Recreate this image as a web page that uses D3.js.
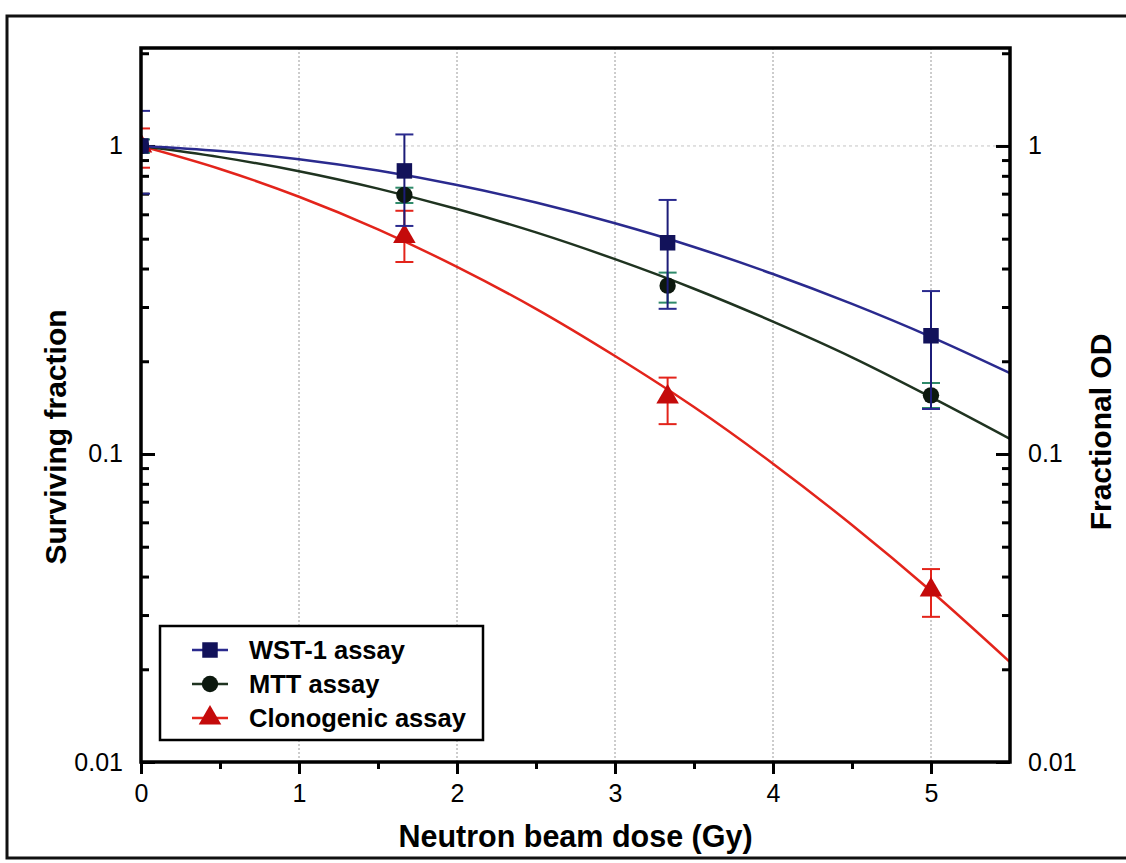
<!DOCTYPE html>
<html>
<head>
<meta charset="utf-8">
<script src="https://cdn.jsdelivr.net/npm/d3@7"></script>
<style>
  body { margin: 0; background: #fff; }
  text { font-family: "Liberation Sans", Arial, sans-serif; }
</style>
</head>
<body>
<div id="chart"></div>
<script>
// Chart data
const doses = [0, 1.667, 3.333, 5];

const wstMean = [1, 0.83, 0.485, 0.242];
const wstLow  = [0.70, 0.55, 0.296, 0.140];
const wstHigh = [1.30, 1.09, 0.668, 0.338];

const mttMean = [1, 0.693, 0.352, 0.155];
const mttLow  = [0.95, 0.653, 0.310, 0.141];
const mttHigh = [1.05, 0.732, 0.388, 0.170];

const cloMean = [1, 0.508, 0.153, 0.0362];
const cloLow  = [0.85, 0.42, 0.125, 0.0296];
const cloHigh = [1.14, 0.616, 0.177, 0.0423];

// Fitted curves, read every 0.5 Gy
const fitDose = [0, 0.5, 1, 1.5, 2, 2.5, 3, 3.5, 4, 4.5, 5, 5.5];
const wstFit = [1, 0.963, 0.905, 0.832, 0.747, 0.655, 0.561, 0.470, 0.384, 0.307, 0.240, 0.183];
const mttFit = [1, 0.920, 0.828, 0.727, 0.624, 0.524, 0.429, 0.344, 0.269, 0.206, 0.153, 0.112];
const cloFit = [1, 0.842, 0.684, 0.536, 0.405, 0.296, 0.208, 0.142, 0.093, 0.0588, 0.0359, 0.0211];

const xTicks = [0, 1, 2, 3, 4, 5];
const xMinor = [0.5, 1.5, 2.5, 3.5, 4.5];
const yTicks = [0.01, 0.1, 1];
const yMinor = [0.02, 0.03, 0.04, 0.05, 0.06, 0.07, 0.08, 0.09,
                0.2, 0.3, 0.4, 0.5, 0.6, 0.7, 0.8, 0.9, 2];

const width = 1126;
const height = 863;
const plot = {left: 141, right: 1010, top: 48, bottom: 762};

const svg = d3.select("#chart").append("svg")
    .attr("width", width)
    .attr("height", height);

// outer figure frame
svg.append("rect")
    .attr("x", 7).attr("y", 16)
    .attr("width", 1130).attr("height", 842)
    .attr("fill", "none")
    .attr("stroke", "#111")
    .attr("stroke-width", 3);

const x = d3.scaleLinear().domain([0, 5.5]).range([plot.left, plot.right]);
const y = d3.scaleLog().domain([0.01, 2.08]).range([plot.bottom, plot.top]);

// grid
svg.append("g")
    .selectAll("line")
    .data(xTicks.slice(1))
    .enter().append("line")
    .attr("x1", d => x(d)).attr("x2", d => x(d))
    .attr("y1", plot.top).attr("y2", plot.bottom)
    .attr("stroke", "#9a9a9a")
    .attr("stroke-width", 1)
    .attr("stroke-dasharray", "2,2");

svg.append("line")
    .attr("x1", plot.left).attr("x2", plot.right)
    .attr("y1", y(1)).attr("y2", y(1))
    .attr("stroke", "#c4c4c4")
    .attr("stroke-width", 1)
    .attr("stroke-dasharray", "3,3");

// axes
function styleAxis(g) {
    g.select(".domain").remove();
    g.attr("font-size", null).attr("font-family", null);
    g.selectAll(".tick line").attr("stroke", "#000").attr("stroke-width", 3);
    g.selectAll(".tick text").attr("fill", "#000").style("font-size", "25px");
}

svg.append("g")
    .attr("transform", `translate(0,${plot.bottom})`)
    .call(d3.axisBottom(x).tickValues(xTicks).tickFormat(d3.format("d")).tickSize(12).tickPadding(10))
    .call(styleAxis);
svg.append("g")
    .attr("transform", `translate(0,${plot.bottom})`)
    .call(d3.axisBottom(x).tickValues(xMinor).tickFormat("").tickSize(7))
    .call(styleAxis);

const yFmt = d => d >= 1 ? "1" : d === 0.1 ? "0.1" : "0.01";

svg.append("g")
    .attr("transform", `translate(${plot.left},0)`)
    .call(d3.axisLeft(y).tickValues(yTicks).tickFormat(yFmt).tickSize(-14).tickPadding(18))
    .call(styleAxis);
svg.append("g")
    .attr("transform", `translate(${plot.left},0)`)
    .call(d3.axisLeft(y).tickValues(yMinor).tickFormat("").tickSize(-8))
    .call(styleAxis);

svg.append("g")
    .attr("transform", `translate(${plot.right},0)`)
    .call(d3.axisRight(y).tickValues(yTicks).tickFormat(yFmt).tickSize(-14).tickPadding(18))
    .call(styleAxis);
svg.append("g")
    .attr("transform", `translate(${plot.right},0)`)
    .call(d3.axisRight(y).tickValues(yMinor).tickFormat("").tickSize(-8))
    .call(styleAxis);

// clip
svg.append("clipPath").attr("id", "clip")
    .append("rect")
    .attr("x", plot.left).attr("y", plot.top)
    .attr("width", plot.right - plot.left)
    .attr("height", plot.bottom - plot.top);

const area = svg.append("g").attr("clip-path", "url(#clip)");

const series = [
    {name: "WST-1 assay", mean: wstMean, low: wstLow, high: wstHigh, fit: wstFit,
     line: "#2a2a8e", err: "#1c1c78", cap: "#2a2a8e", fill: "#12125a", shape: d3.symbolSquare, size: 240},
    {name: "MTT assay", mean: mttMean, low: mttLow, high: mttHigh, fit: mttFit,
     line: "#1f3320", err: "#2f8a6a", cap: "#2f8a6a", fill: "#0c180e", shape: d3.symbolCircle, size: 210},
    {name: "Clonogenic assay", mean: cloMean, low: cloLow, high: cloHigh, fit: cloFit,
     line: "#e3241b", err: "#e3241b", cap: "#e3241b", fill: "#c40a0a", shape: d3.symbolTriangle, size: 220}
];

const line = d3.line()
    .x(d => x(d[0]))
    .y(d => y(d[1]))
    .curve(d3.curveMonotoneX);

// fitted curves
series.slice().reverse().forEach(s => {
    area.append("path")
        .datum(fitDose.map((d, i) => [d, s.fit[i]]))
        .attr("d", line)
        .attr("fill", "none")
        .attr("stroke", s.line)
        .attr("stroke-width", 2.5);
});

// error bars and markers
const capW = 9;
series.slice().reverse().forEach(s => {
    const g = area.append("g");
    doses.forEach((d, i) => {
        g.append("line")
            .attr("x1", x(d)).attr("x2", x(d))
            .attr("y1", y(s.low[i])).attr("y2", y(s.high[i]))
            .attr("stroke", s.err).attr("stroke-width", 2);
        [s.low[i], s.high[i]].forEach(v => {
            g.append("line")
                .attr("x1", x(d) - capW).attr("x2", x(d) + capW)
                .attr("y1", y(v)).attr("y2", y(v))
                .attr("stroke", s.cap).attr("stroke-width", 2);
        });
    });
    g.selectAll("path.mk")
        .data(doses.map((d, i) => [d, s.mean[i]]))
        .enter().append("path")
        .attr("class", "mk")
        .attr("transform", d => `translate(${x(d[0])},${y(d[1])})`)
        .attr("d", d3.symbol().type(s.shape).size(s.size))
        .attr("fill", s.fill);
});

// plot frame
svg.append("rect")
    .attr("x", plot.left).attr("y", plot.top)
    .attr("width", plot.right - plot.left)
    .attr("height", plot.bottom - plot.top)
    .attr("fill", "none")
    .attr("stroke", "#000")
    .attr("stroke-width", 3.5);

// legend
const legend = svg.append("g");
legend.append("rect")
    .attr("x", 160).attr("y", 626)
    .attr("width", 323).attr("height", 114)
    .attr("fill", "#fff")
    .attr("stroke", "#000")
    .attr("stroke-width", 2.5);

series.forEach((s, i) => {
    const ly = 650 + i * 34;
    legend.append("line")
        .attr("x1", 192).attr("x2", 228)
        .attr("y1", ly).attr("y2", ly)
        .attr("stroke", s.line).attr("stroke-width", 2.5);
    legend.append("path")
        .attr("transform", `translate(210,${ly})`)
        .attr("d", d3.symbol().type(s.shape).size(s.size))
        .attr("fill", s.fill);
    legend.append("text")
        .attr("x", 249).attr("y", ly + 9)
        .style("font-size", "25.5px")
        .style("font-weight", "bold")
        .text(s.name);
});

// axis titles
svg.append("text")
    .attr("x", (plot.left + 1010) / 2).attr("y", 847)
    .attr("text-anchor", "middle")
    .style("font-size", "30.5px")
    .style("font-weight", "bold")
    .text("Neutron beam dose (Gy)");

svg.append("text")
    .attr("transform", "translate(66,437) rotate(-90)")
    .attr("text-anchor", "middle")
    .style("font-size", "30px")
    .style("font-weight", "bold")
    .text("Surviving fraction");

svg.append("text")
    .attr("transform", "translate(1111,432) rotate(-90)")
    .attr("text-anchor", "middle")
    .style("font-size", "30px")
    .style("font-weight", "bold")
    .text("Fractional OD");
</script>
</body>
</html>
